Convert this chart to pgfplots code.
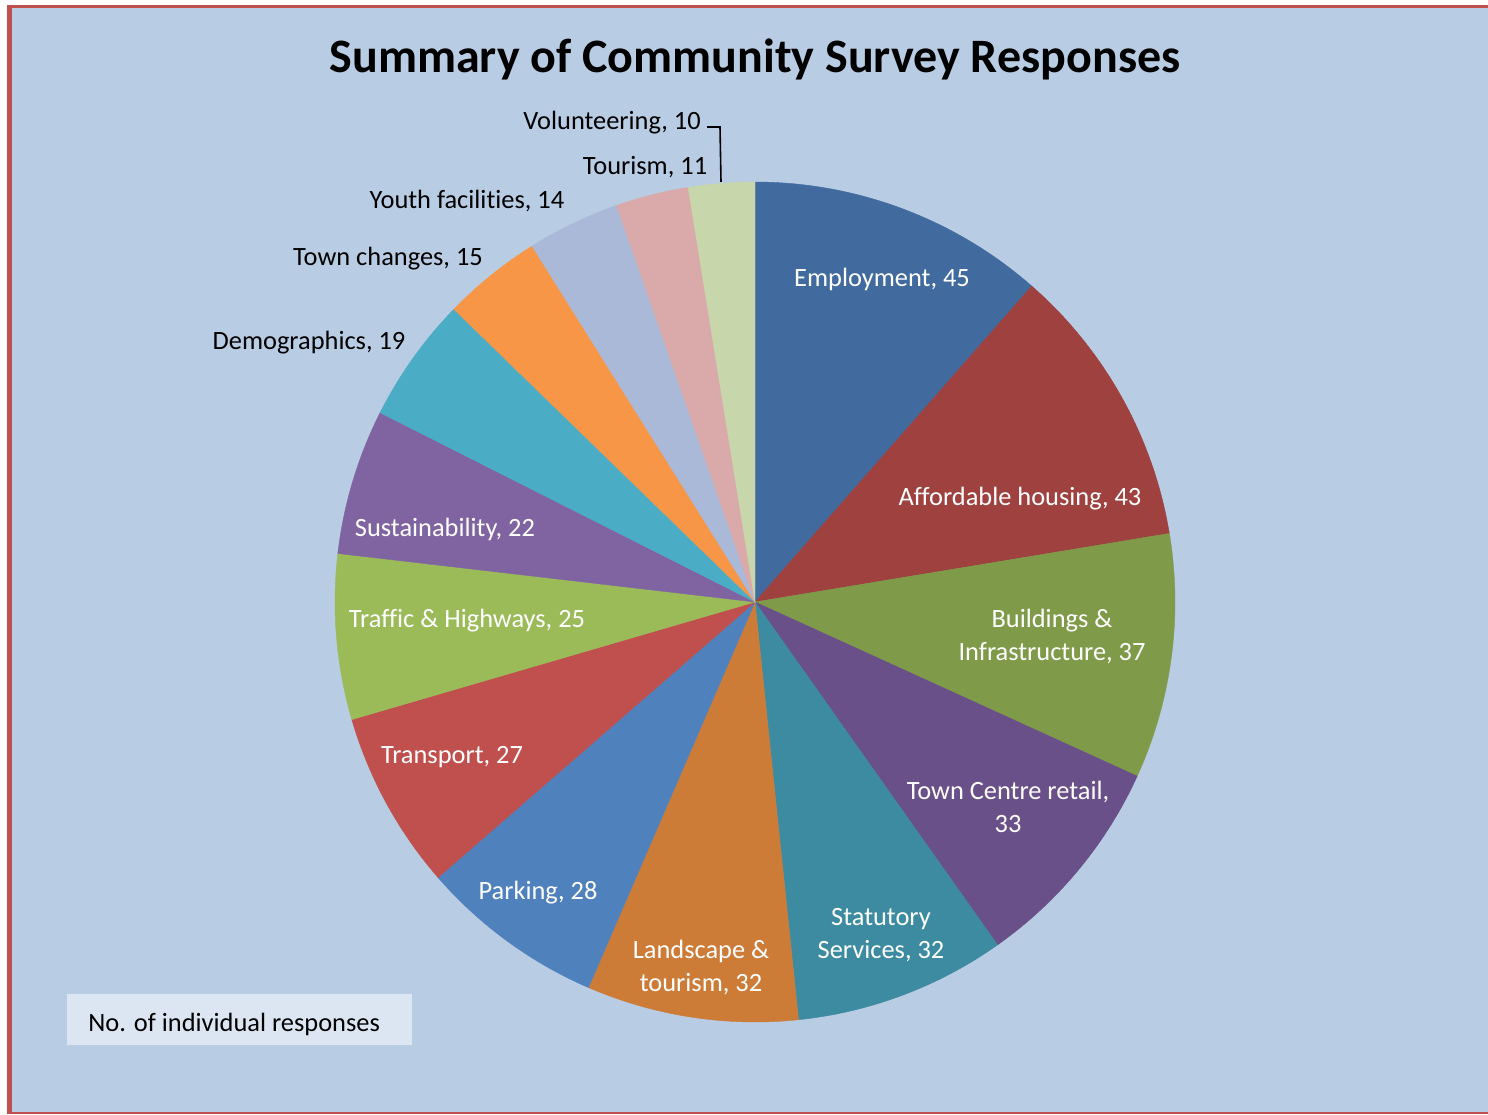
\documentclass[border=0pt]{standalone}
\usepackage{pgfplots}
\pgfplotsset{compat=1.18}
\usepackage{fontspec}
\setmainfont[Ligatures=NoCommon]{Carlito}
\definecolor{bg}{HTML}{B8CCE4}
\definecolor{brd}{HTML}{C0504D}
\definecolor{boxc}{HTML}{DCE6F2}
\definecolor{c1}{HTML}{416A9E}
\definecolor{c2}{HTML}{9E413F}
\definecolor{c3}{HTML}{7F9A48}
\definecolor{c4}{HTML}{6A5088}
\definecolor{c5}{HTML}{3C8BA1}
\definecolor{c6}{HTML}{CD7C38}
\definecolor{c7}{HTML}{4F81BD}
\definecolor{c8}{HTML}{C0504D}
\definecolor{c9}{HTML}{9BBB59}
\definecolor{c10}{HTML}{8064A2}
\definecolor{c11}{HTML}{4BACC6}
\definecolor{c12}{HTML}{F79646}
\definecolor{c13}{HTML}{AAB9D7}
\definecolor{c14}{HTML}{D9AAA9}
\definecolor{c15}{HTML}{C7D7AB}
\begin{document}
\begin{tikzpicture}
\begin{axis}[
  scale only axis, width=744pt, height=557pt,
  xmin=0, xmax=1488, ymin=0, ymax=1114,
  hide axis, clip=false,
]
% background and frame
\fill[white] (axis cs:0,0) rectangle (axis cs:1488,1114);
\fill[bg] (axis cs:7,2) rectangle (axis cs:1488,1109);
\fill[brd] (axis cs:7,0) rectangle (axis cs:12,1109);
\fill[brd] (axis cs:7,1106) rectangle (axis cs:1488,1109);
\fill[brd] (axis cs:7,0) rectangle (axis cs:1488,2);
% pie slices
\def\total{393}
\def\cum{0}
\pgfplotsforeachungrouped \v/\c in {45/c1,43/c2,37/c3,33/c4,32/c5,32/c6,28/c7,27/c8,25/c9,22/c10,19/c11,15/c12,14/c13,11/c14,10/c15}{
  \pgfmathsetmacro\aS{90-\cum/\total*360}
  \pgfmathsetmacro\cumn{\cum+\v}
  \pgfmathsetmacro\aE{90-\cumn/\total*360}
  \edef\tmp{\noexpand\addplot[fill=\c, draw=\c, line width=0.2pt, domain=\aE:\aS, samples=60, variable=\noexpand\t] ({755+420*cos(\noexpand\t)},{512+420*sin(\noexpand\t)}) -- (axis cs:755,512) -- cycle;}
  \tmp
  \global\let\cum\cumn
}
% title
\node[font=\bfseries\fontsize{24}{28}\selectfont] at (axis cs:755,1055) {Summary of Community Survey Responses};
% labels
\tikzset{wl/.style={text=white, font=\fontsize{13.2}{16.5}\selectfont, align=center},
         bl/.style={text=black, font=\fontsize{13.2}{16.5}\selectfont, align=center}}
\node[wl] at (axis cs:882,835) {Employment, 45};
\node[wl] at (axis cs:1020,615) {Affordable housing, 43};
\node[wl] at (axis cs:1052,477) {Buildings \&\\Infrastructure, 37};
\node[wl] at (axis cs:1008,307) {Town Centre retail,\\33};
\node[wl] at (axis cs:881,179) {Statutory\\Services, 32};
\node[wl] at (axis cs:701,146) {Landscape \&\\tourism, 32};
\node[wl] at (axis cs:538,221) {Parking, 28};
\node[wl] at (axis cs:452,357) {Transport, 27};
\node[wl] at (axis cs:467,493) {Traffic \& Highways, 25};
\node[wl] at (axis cs:445,585) {Sustainability, 22};
\node[bl] at (axis cs:309,771) {Demographics, 19};
\node[bl] at (axis cs:388,855) {Town changes, 15};
\node[bl] at (axis cs:467,913) {Youth facilities, 14};
\node[bl] at (axis cs:645,947) {Tourism, 11};
\node[bl] at (axis cs:612,991) {Volunteering, 10};
\draw[black, line width=0.8pt] (axis cs:707,987) -- (axis cs:720,987) -- (axis cs:721,932);
% legend box
\fill[boxc] (axis cs:67,69) rectangle (axis cs:412,120);
\node[bl, anchor=west, inner sep=0pt] at (axis cs:88,90) {No. of individual responses};
\end{axis}
\end{tikzpicture}
\end{document}
